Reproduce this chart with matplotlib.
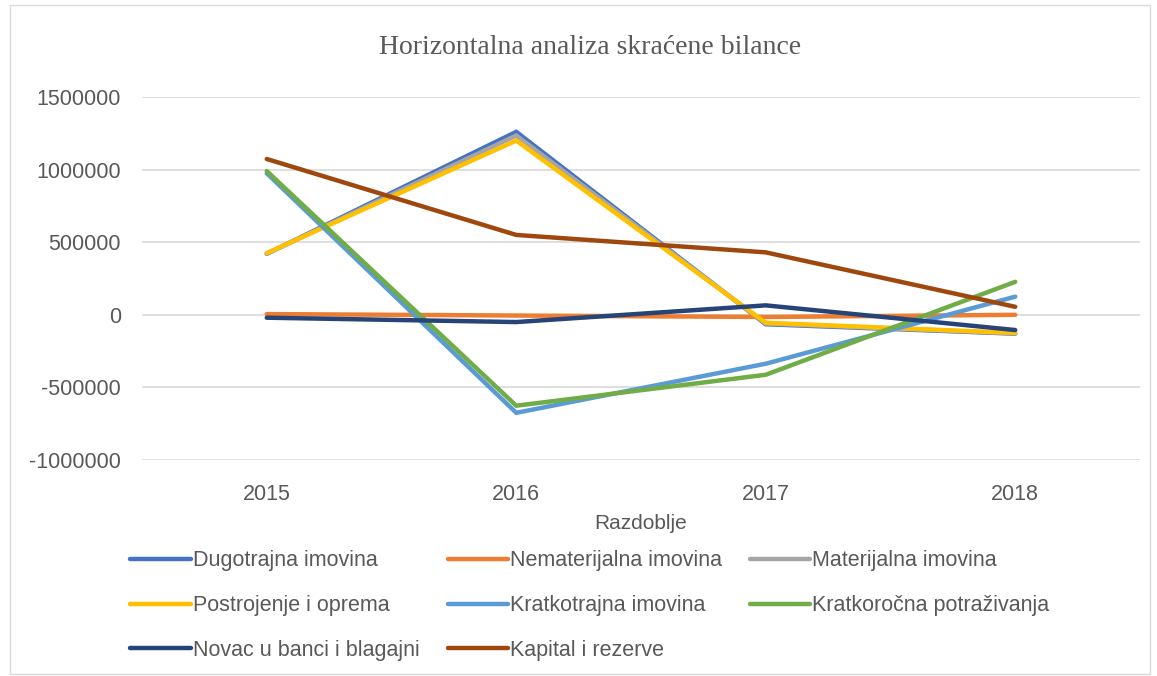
import matplotlib
matplotlib.use("Agg")
import matplotlib.pyplot as plt
from matplotlib.patches import Rectangle

# podaci
godine = ["2015", "2016", "2017", "2018"]
dugotrajna = [420000, 1260000, -65000, -130000]
nematerijalna = [5000, -5000, -15000, 0]
materijalna = [420000, 1235000, -60000, -128000]
postrojenje = [425000, 1200000, -55000, -125000]
kratkotrajna = [975000, -675000, -337000, 125000]
potrazivanja = [990000, -626000, -413000, 227000]
novac = [-20000, -50000, 65000, -105000]
kapital = [1073000, 550000, 430000, 55000]

nazivi = ["Dugotrajna imovina", "Nematerijalna imovina", "Materijalna imovina",
          "Postrojenje i oprema", "Kratkotrajna imovina", "Kratkoročna potraživanja",
          "Novac u banci i blagajni", "Kapital i rezerve"]
serije = [dugotrajna, nematerijalna, materijalna, postrojenje,
          kratkotrajna, potrazivanja, novac, kapital]
boje = ["#4472C4", "#ED7D31", "#A5A5A5", "#FFC000",
        "#5B9BD5", "#70AD47", "#264478", "#9E480E"]

plt.rcParams['font.family'] = ['Liberation Sans', 'DejaVu Sans']

fig = plt.figure(figsize=(11.57, 6.76), dpi=100)
ax = fig.add_axes([142/1157, 1 - 460/676, (1140-142)/1157, (460-97)/676])

x = list(range(len(godine)))
linije = []
for ime, s, c in zip(nazivi, serije, boje):
    l, = ax.plot(x, s, color=c, lw=3.2, label=ime, solid_capstyle='round', solid_joinstyle='miter')
    linije.append(l)

ax.set_xlim(-0.5, 3.5)
ax.set_ylim(-1000000, 1500000)
ax.set_yticks(range(-1000000, 1500001, 500000))
ax.set_yticklabels([str(v) for v in range(-1000000, 1500001, 500000)])
ax.set_xticks(x)
ax.set_xticklabels(godine)
ax.grid(axis='y', color='#D9D9D9', lw=1.2)
ax.set_axisbelow(True)
for sp in ax.spines.values():
    sp.set_visible(False)
ax.tick_params(length=0, labelsize=15.5, colors='#595959')
ax.tick_params(axis='y', pad=15)
ax.tick_params(axis='x', pad=17)

ax.set_xlabel("Razdoblje", fontsize=15, color='#595959', labelpad=7)
fig.text(590/1157, 1 - 47/676, "Horizontalna analiza skraćene bilance",
         ha='center', va='center', fontsize=20, color='#595959',
         family=['Liberation Serif', 'DejaVu Serif'])

# legenda po redovima (matplotlib puni po stupcima)
red = [0, 3, 6, 1, 4, 7, 2, 5]
ax.legend([linije[i] for i in red], [nazivi[i] for i in red],
          loc='upper left', bbox_to_anchor=(111/1157, 1 - 531/676),
          bbox_transform=fig.transFigure, ncol=3, frameon=False,
          fontsize=15.5, handlelength=2.8, handletextpad=0.1, columnspacing=1.3,
          labelspacing=1.1, labelcolor='#595959')

fig.patches.append(Rectangle((10/1157, 0.003), 1140/1157, 0.99, transform=fig.transFigure,
                             fill=False, edgecolor='#D9D9D9', lw=1))

fig.savefig("out.png", dpi=100)
